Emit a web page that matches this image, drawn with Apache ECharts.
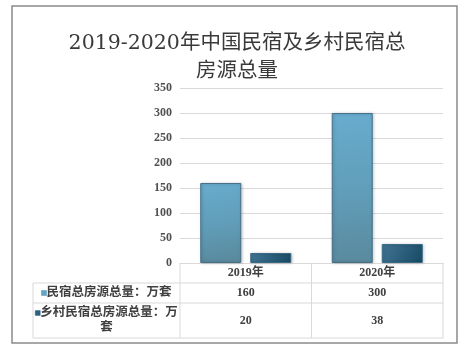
<!DOCTYPE html>
<html>
<head>
<meta charset="utf-8">
<script src="https://cdn.jsdelivr.net/npm/echarts@6/dist/echarts.min.js"></script>
<style>
  html, body { margin: 0; padding: 0; background: #fff; }
  #main { width: 472px; height: 349px; }
</style>
</head>
<body>
<div id="main"></div>
<script>
// Data
var categories = ['2019年', '2020年'];
var seriesNames = ['民宿总房源总量：万套', '乡村民宿总房源总量：万套'];
var totalListings = [160, 300];
var ruralListings = [20, 38];
var yTicks = [0, 50, 100, 150, 200, 250, 300, 350];

var chart = echarts.init(document.getElementById('main'));

// Layout of the plot and data table
var G = { left: 180, right: 443, top: 88, bottom: 263 };
var tableLeft = 33;
var rowLines = [263, 283, 303, 338];
var lineColor = '#d9d9d9';
var textFont = '"Liberation Serif", "Noto Sans CJK SC", serif';

var colors = [
  { type: 'linear', x: 0, y: 0, x2: 0.3, y2: 1, colorStops: [
    { offset: 0, color: '#68acce' }, { offset: 0.55, color: '#609db8' }, { offset: 1, color: '#5a8a9e' }] },
  { type: 'linear', x: 0, y: 0, x2: 1, y2: 1, colorStops: [
    { offset: 0, color: '#437594' }, { offset: 1, color: '#174a64' }] }
];
var markerColors = ['#62a4c4', '#2e5e7b'];
var seriesData = [totalListings, ruralListings];

function buildTable() {
  var els = [];
  var colW = (G.right - G.left) / categories.length;
  var colEdges = [G.left];
  for (var i = 1; i <= categories.length; i++) colEdges.push(G.left + colW * i);

  // horizontal rules
  for (var h = 1; h < rowLines.length; h++) {
    els.push({ type: 'line', shape: { x1: tableLeft, y1: rowLines[h], x2: G.right, y2: rowLines[h] }, style: { stroke: lineColor, lineWidth: 1 } });
  }
  // vertical rules
  colEdges.forEach(function (x) {
    els.push({ type: 'line', shape: { x1: x, y1: rowLines[0], x2: x, y2: rowLines[3] }, style: { stroke: lineColor, lineWidth: 1 } });
  });
  els.push({ type: 'line', shape: { x1: tableLeft, y1: rowLines[1], x2: tableLeft, y2: rowLines[3] }, style: { stroke: lineColor, lineWidth: 1 } });

  // row headers with legend keys, then the values
  for (var r = 0; r < seriesNames.length; r++) {
    var yMid = (rowLines[r + 1] + rowLines[r + 2]) / 2;
    els.push({
      type: 'text',
      x: (tableLeft + G.left) / 2,
      y: yMid,
      style: {
        text: '{m|}' + seriesNames[r],
        width: G.left - tableLeft - 4,
        overflow: 'break',
        align: 'center',
        verticalAlign: 'middle',
        fontFamily: textFont,
        fontSize: 12.5,
        fontWeight: 'bold',
        lineHeight: 15,
        fill: '#404040',
        rich: {
          m: { width: 5, height: 5, backgroundColor: markerColors[r], borderColor: '#9fbfd0', borderWidth: 0.5, padding: 0 }
        }
      }
    });
    for (var c = 0; c < categories.length; c++) {
      els.push({
        type: 'text',
        x: colEdges[c] + colW / 2,
        y: yMid,
        style: {
          text: String(seriesData[r][c]),
          align: 'center',
          verticalAlign: 'middle',
          fontFamily: textFont,
          fontSize: 12,
          fontWeight: 'bold',
          fill: '#404040'
        }
      });
    }
  }
  // outer frame
  els.push({ type: 'rect', shape: { x: 12, y: 6, width: 445, height: 337 }, style: { fill: 'none', stroke: '#8a8a8a', lineWidth: 1.5 } });
  return els;
}

var option = {
  backgroundColor: '#fff',
  animation: false,
  title: {
    text: '2019-2020年中国民宿及乡村民宿总\n房源总量',
    left: 232,
    top: 25,
    textAlign: 'center',
    textStyle: {
      fontFamily: '"DejaVu Serif", "Noto Sans CJK SC", serif',
      fontSize: 20.5,
      fontWeight: 'normal',
      color: '#3a3a3a',
      lineHeight: 28
    }
  },
  grid: { left: G.left, right: 472 - G.right, top: G.top, bottom: 349 - G.bottom, containLabel: false },
  xAxis: {
    type: 'category',
    data: categories,
    axisLine: { lineStyle: { color: lineColor } },
    axisTick: { show: false },
    axisLabel: { margin: 4, fontFamily: textFont, fontSize: 12, fontWeight: 'bold', color: '#404040' }
  },
  yAxis: {
    type: 'value',
    min: yTicks[0],
    max: yTicks[yTicks.length - 1],
    interval: yTicks[1] - yTicks[0],
    axisLine: { show: false },
    axisTick: { show: false },
    splitLine: { lineStyle: { color: lineColor } },
    axisLabel: { margin: 8, fontFamily: textFont, fontSize: 12, fontWeight: 'bold', color: '#505050' }
  },
  series: [
    {
      name: seriesNames[0], type: 'bar', data: totalListings,
      barWidth: 41, barGap: '22%',
      itemStyle: { color: colors[0], borderColor: '#44708a', borderWidth: 1, shadowColor: 'rgba(0,0,0,0.25)', shadowBlur: 3, shadowOffsetX: 1 }
    },
    {
      name: seriesNames[1], type: 'bar', data: ruralListings,
      barWidth: 41,
      itemStyle: { color: colors[1], borderColor: '#3a6a86', borderWidth: 1, shadowColor: 'rgba(0,0,0,0.25)', shadowBlur: 3, shadowOffsetX: 1 }
    }
  ],
  graphic: buildTable()
};

chart.setOption(option);
</script>
</body>
</html>
